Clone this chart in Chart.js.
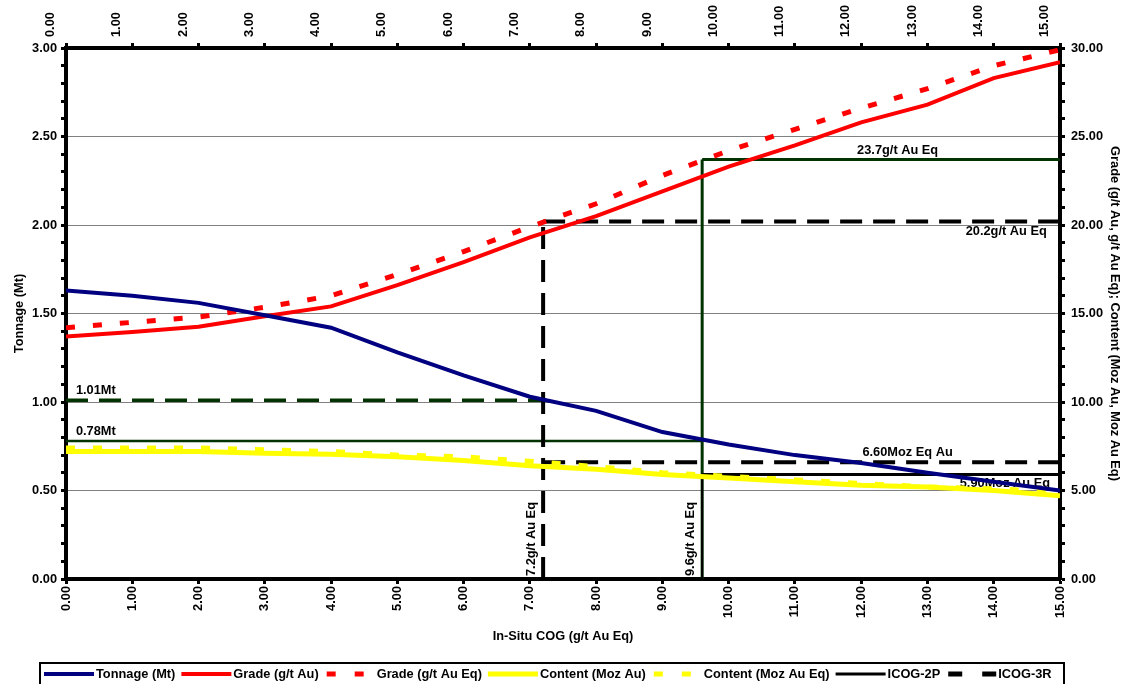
<!DOCTYPE html>
<html>
<head>
<meta charset="utf-8">
<script src="https://cdn.jsdelivr.net/npm/chart.js@4.4.1/dist/chart.umd.min.js"></script>
<style>
  html, body { margin: 0; padding: 0; background: #ffffff; }
  #wrap { width: 1129px; height: 684px; }
</style>
</head>
<body>
<div id="wrap"><canvas id="gtc" width="1129" height="684"></canvas></div>
<script>
// In-situ cut-off grade (g/t Au Eq)
const cog = [0, 1, 2, 3, 4, 5, 6, 7, 8, 9, 10, 11, 12, 13, 14, 15];

// Series read against each cut-off
const tonnageMt   = [1.63, 1.60, 1.56, 1.49, 1.42, 1.28, 1.15, 1.03, 0.95, 0.83, 0.76, 0.70, 0.655, 0.60, 0.55, 0.50];
const gradeAu     = [13.7, 13.95, 14.25, 14.85, 15.4, 16.6, 17.9, 19.3, 20.5, 21.9, 23.3, 24.5, 25.8, 26.8, 28.3, 29.2];
const gradeAuEq   = [14.2, 14.5, 14.8, 15.35, 16.0, 17.2, 18.5, 19.9, 21.2, 22.8, 24.2, 25.4, 26.6, 27.7, 29.0, 29.9];
const contentAu   = [7.2, 7.2, 7.2, 7.1, 7.05, 6.9, 6.7, 6.4, 6.2, 5.9, 5.7, 5.5, 5.3, 5.2, 5.0, 4.7];
const contentAuEq = [7.4, 7.4, 7.4, 7.3, 7.2, 7.0, 6.9, 6.65, 6.35, 6.0, 5.8, 5.6, 5.4, 5.2, 5.1, 4.9];

const seriesNames = ['Tonnage (Mt)', 'Grade (g/t Au)', 'Grade (g/t Au Eq)', 'Content (Moz Au)', 'Content (Moz Au Eq)'];

// Cut-off scenarios: ICOG-2P and ICOG-3R
const icogNames     = ['ICOG-2P', 'ICOG-3R'];
const icogCog       = [9.6, 7.2];
const icogTonnage   = [0.78, 1.01];
const icogGradeEq   = [23.7, 20.2];
const icogContentEq = [5.90, 6.60];

// Axis ranges
const xRange = [0, 15];
const tonnageRange = [0, 3];
const gradeRange = [0, 30];

const FONT_FAMILY = "'Liberation Sans', Arial, Helvetica, sans-serif";
const FONT_SIZE = 12.8;
Chart.defaults.font = { family: FONT_FAMILY, size: FONT_SIZE, weight: 'bold' };
Chart.defaults.color = '#000000';

const NAVY = '#000080', RED = '#ff0000', YELLOW = '#ffff00', DKGREEN = '#003300', BLACK = '#000000';

const pts = (xs, ys) => xs.map((x, i) => ({ x: x, y: ys[i] }));
const seg = (x0, y0, x1, y1) => [{ x: x0, y: y0 }, { x: x1, y: y1 }];

const seriesStyle = [
  { color: NAVY,   width: 4, dash: [],      axis: 'y',  values: tonnageMt,   order: 1, legendDash: [] },
  { color: RED,    width: 4, dash: [],      axis: 'y2', values: gradeAu,     order: 2, legendDash: [] },
  { color: RED,    width: 5, dash: [9, 18], axis: 'y2', values: gradeAuEq,   order: 3, legendDash: [9, 19] },
  { color: YELLOW, width: 5, dash: [],      axis: 'y2', values: contentAu,   order: 5, legendDash: [] },
  { color: YELLOW, width: 5, dash: [9, 18], axis: 'y2', values: contentAuEq, order: 4, legendDash: [9, 19] }
];

const datasets = seriesStyle.map((s, i) => ({
  label: seriesNames[i],
  data: pts(cog, s.values),
  borderColor: s.color,
  backgroundColor: s.color,
  borderWidth: s.width,
  borderDash: s.dash,
  yAxisID: s.axis,
  xAxisID: 'x',
  order: s.order,
  pointRadius: 0,
  tension: 0,
  fill: false,
  legendDash: s.legendDash
}));

// Reference lines of the two cut-off scenarios
const [c2p, c3r] = icogCog;
const refLines = [
  // ICOG-2P
  { data: seg(c2p, 0, c2p, icogGradeEq[0]), color: DKGREEN, width: 3, dash: [], axis: 'y2', order: 30 },
  { data: seg(xRange[0], icogTonnage[0], c2p, icogTonnage[0]), color: DKGREEN, width: 2.5, dash: [], axis: 'y', order: 30 },
  { data: seg(c2p, icogGradeEq[0], xRange[1], icogGradeEq[0]), color: DKGREEN, width: 3, dash: [], axis: 'y2', order: 30 },
  { data: seg(c2p, icogContentEq[0], xRange[1], icogContentEq[0]), color: BLACK, width: 3, dash: [], axis: 'y2', order: 25 },
  { data: seg(c2p, 0, c2p, icogContentEq[0]), color: BLACK, width: 2, dash: [], axis: 'y2', order: 24 },
  // ICOG-3R
  { data: seg(c3r, 0, c3r, icogGradeEq[1]), color: BLACK, width: 4, dash: [22, 11], axis: 'y2', order: 26 },
  { data: seg(xRange[0], icogTonnage[1], c3r, icogTonnage[1]), color: DKGREEN, width: 3.5, dash: [22, 11], axis: 'y', order: 30 },
  { data: seg(c3r, icogGradeEq[1], xRange[1], icogGradeEq[1]), color: BLACK, width: 4, dash: [22, 11], axis: 'y2', order: 26 },
  { data: seg(c3r, icogContentEq[1], xRange[1], icogContentEq[1]), color: BLACK, width: 4, dash: [22, 11], axis: 'y2', order: 26 }
];
refLines.forEach(r => datasets.push({
  label: '',
  data: r.data,
  borderColor: r.color,
  borderWidth: r.width,
  borderDash: r.dash,
  yAxisID: r.axis,
  xAxisID: 'x',
  order: r.order,
  pointRadius: 0,
  fill: false,
  borderCapStyle: 'butt'
}));

// Legend entries (series plus the two scenario line styles)
const legendEntries = datasets.slice(0, 5).map(d => ({
  text: d.label, color: d.borderColor, width: d.borderWidth, dash: d.legendDash
})).concat([
  { text: icogNames[0], color: BLACK, width: 3, dash: [] },
  { text: icogNames[1], color: BLACK, width: 5, dash: [14, 20] }
]);

const isMajor = (v, step) => Math.abs(v / step - Math.round(v / step)) < 1e-6;

// Text labels attached to the scenario lines
const lineLabels = [
  { text: icogTonnage[1].toFixed(2) + 'Mt', x: 0.15, y: icogTonnage[1], axis: 'y', align: 'left', base: 'bottom', dy: -3 },
  { text: icogTonnage[0].toFixed(2) + 'Mt', x: 0.15, y: icogTonnage[0], axis: 'y', align: 'left', base: 'bottom', dy: -3 },
  { text: icogGradeEq[0].toFixed(1) + 'g/t Au Eq', x: 12.55, y: icogGradeEq[0], axis: 'y2', align: 'center', base: 'bottom', dy: -3 },
  { text: icogGradeEq[1].toFixed(1) + 'g/t Au Eq', x: 14.8, y: icogGradeEq[1], axis: 'y2', align: 'right', base: 'top', dy: 4 },
  { text: icogContentEq[1].toFixed(2) + 'Moz Eq Au', x: 12.7, y: icogContentEq[1], axis: 'y2', align: 'center', base: 'bottom', dy: -3 },
  { text: icogContentEq[0].toFixed(2) + 'Moz Au Eq', x: 14.85, y: icogContentEq[0], axis: 'y2', align: 'right', base: 'top', dy: 3 }
];
const cogLabels = icogCog.map(c => ({ text: c.toFixed(1) + 'g/t Au Eq', x: c }));

const labelPlugin = {
  id: 'icogLabels',
  beforeDatasetsDraw(chart) {
    const { ctx, scales } = chart;
    ctx.save();
    ctx.fillStyle = '#000';
    ctx.font = 'bold ' + FONT_SIZE + 'px ' + FONT_FAMILY;
    lineLabels.forEach(l => {
      ctx.textAlign = l.align;
      ctx.textBaseline = l.base;
      ctx.fillText(l.text, scales.x.getPixelForValue(l.x), scales[l.axis].getPixelForValue(l.y) + l.dy);
    });
    cogLabels.forEach(l => {
      ctx.save();
      ctx.translate(scales.x.getPixelForValue(l.x) - 12, scales.y.getPixelForValue(0) - 3);
      ctx.rotate(-Math.PI / 2);
      ctx.textAlign = 'left';
      ctx.textBaseline = 'middle';
      ctx.fillText(l.text, 0, 0);
      ctx.restore();
    });
    ctx.restore();
  }
};

const legendPlugin = {
  id: 'boxLegend',
  afterDraw(chart) {
    const { ctx } = chart;
    const top = 663, left = 40, right = 1064, midY = 674;
    ctx.save();
    ctx.strokeStyle = '#000';
    ctx.lineWidth = 2;
    ctx.strokeRect(left, top, right - left, 40);
    ctx.font = 'bold ' + FONT_SIZE + 'px ' + FONT_FAMILY;
    ctx.textBaseline = 'middle';
    ctx.textAlign = 'left';
    let x = 44;
    legendEntries.forEach(e => {
      ctx.beginPath();
      ctx.strokeStyle = e.color;
      ctx.lineWidth = e.width;
      ctx.lineCap = 'butt';
      ctx.setLineDash(e.dash);
      ctx.lineDashOffset = e.dash.length ? -2 : 0;
      ctx.moveTo(x, midY);
      ctx.lineTo(x + 50, midY);
      ctx.stroke();
      ctx.setLineDash([]);
      ctx.fillStyle = '#000';
      ctx.fillText(e.text, x + 52, midY);
      x += 52 + ctx.measureText(e.text).width + 6;
    });
    ctx.restore();
  }
};

const xTicks = (pad) => ({
  stepSize: 1, autoSkip: false, minRotation: 90, maxRotation: 90, padding: pad,
  callback: v => Number(v).toFixed(2)
});
const tickGrid = { drawOnChartArea: false, drawTicks: true, tickLength: 5, tickWidth: 3, tickColor: '#000' };
const axisBorder = { display: true, color: '#000', width: 4 };

new Chart(document.getElementById('gtc'), {
  type: 'line',
  data: { datasets: datasets },
  plugins: [labelPlugin, legendPlugin],
  options: {
    responsive: false,
    animation: false,
    devicePixelRatio: 1,
    layout: { padding: 0 },
    plugins: { legend: { display: false }, tooltip: { enabled: false }, title: { display: false } },
    scales: {
      x: {
        type: 'linear', position: 'bottom', min: xRange[0], max: xRange[1],
        ticks: xTicks(2), grid: tickGrid, border: axisBorder,
        title: { display: true, text: 'In-Situ COG (g/t Au Eq)', padding: { top: 0, bottom: 40 } },
        afterFit: s => { s.height = 105; }
      },
      x2: {
        type: 'linear', position: 'top', min: xRange[0], max: xRange[1],
        ticks: xTicks(6), grid: tickGrid, border: axisBorder,
        afterFit: s => { s.height = 48; }
      },
      y: {
        type: 'linear', position: 'left', min: tonnageRange[0], max: tonnageRange[1],
        ticks: { stepSize: 0.1, autoSkip: false, padding: 4, callback: v => isMajor(v, 0.5) ? Number(v).toFixed(2) : '' },
        grid: {
          drawOnChartArea: true, drawTicks: true, tickLength: 5, tickWidth: 3, tickColor: '#000', lineWidth: 1,
          color: c => (c.tick && isMajor(c.tick.value, 0.5)) ? '#808080' : 'rgba(0,0,0,0)'
        },
        border: axisBorder,
        title: { display: true, text: 'Tonnage (Mt)', padding: { top: 12, bottom: 0 } },
        afterFit: s => { s.width = 66; }
      },
      y2: {
        type: 'linear', position: 'right', min: gradeRange[0], max: gradeRange[1],
        ticks: { stepSize: 1, autoSkip: false, padding: 6, callback: v => isMajor(v, 5) ? Number(v).toFixed(2) : '' },
        grid: tickGrid, border: axisBorder,
        title: { display: true, text: 'Grade (g/t Au, g/t Au Eq); Content (Moz Au, Moz Au Eq)', padding: { top: 7, bottom: 0 } },
        afterFit: s => { s.width = 69; }
      }
    }
  }
});
</script>
</body>
</html>
